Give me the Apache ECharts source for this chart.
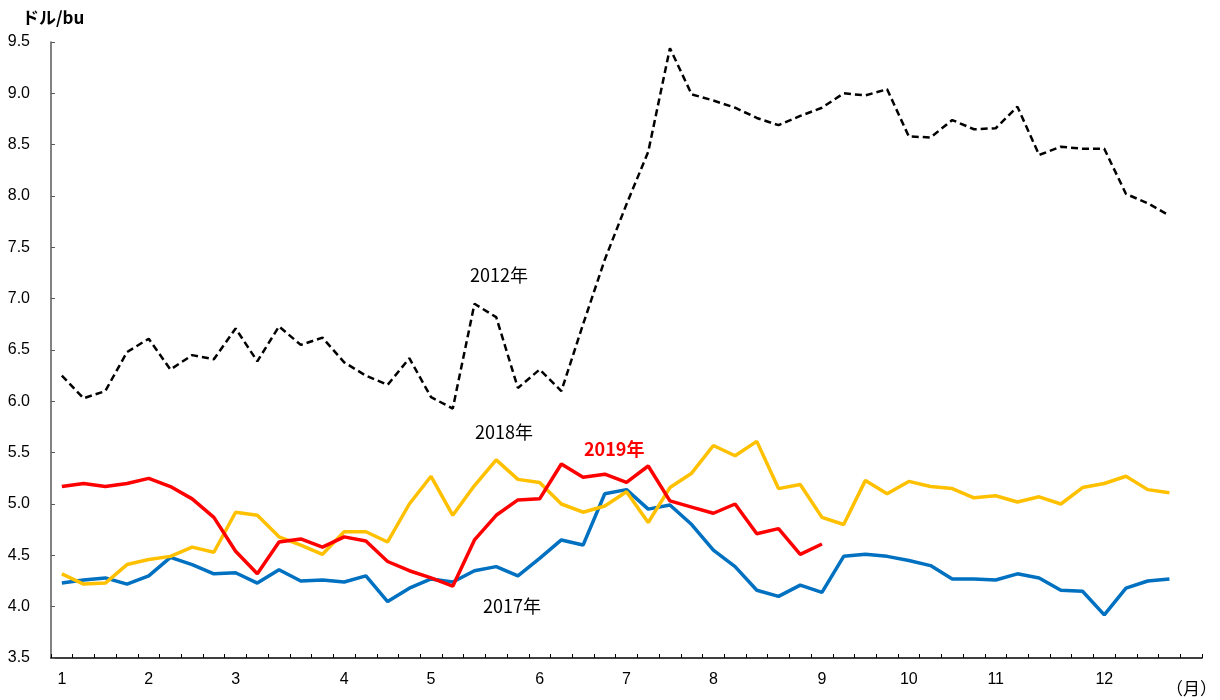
<!DOCTYPE html>
<html>
<head>
<meta charset="utf-8">
<script src="https://cdn.jsdelivr.net/npm/echarts@6/dist/echarts.min.js"></script>
<style>
  html, body { margin: 0; padding: 0; background: #fff; }
  #chart { width: 1220px; height: 700px; }
</style>
</head>
<body>
<div id="chart"></div>
<script>
// weekly categories, month number at the first week of each month
const categories = [
  '1', '', '', '', '2', '', '', '', '3', '', '', '', '', '4', '', '', '',
  '5', '', '', '', '', '6', '', '', '', '7', '', '', '', '8', '', '', '', '',
  '9', '', '', '', '10', '', '', '', '11', '', '', '', '', '12', '', '', '', ''
];

const y2012 = [
  6.25, 6.03, 6.10, 6.48, 6.61, 6.31, 6.45, 6.41, 6.71, 6.39, 6.73, 6.55, 6.62,
  6.38, 6.25, 6.16, 6.42, 6.04, 5.93, 6.95, 6.82, 6.13, 6.31, 6.10, 6.75, 7.38,
  7.92, 8.43, 9.44, 8.99, 8.93, 8.86, 8.76, 8.69, 8.78, 8.86, 9.00, 8.98, 9.04,
  8.58, 8.57, 8.74, 8.65, 8.66, 8.87, 8.40, 8.48, 8.46, 8.46, 8.02, 7.93, 7.81
];

const y2017 = [
  4.23, 4.26, 4.28, 4.22, 4.30, 4.48, 4.41, 4.32, 4.33, 4.23, 4.36, 4.25, 4.26,
  4.24, 4.30, 4.05, 4.18, 4.27, 4.24, 4.35, 4.39, 4.30, 4.47, 4.65, 4.60, 5.10,
  5.14, 4.95, 4.99, 4.80, 4.55, 4.39, 4.16, 4.10, 4.21, 4.14, 4.49, 4.51, 4.49,
  4.45, 4.40, 4.27, 4.27, 4.26, 4.32, 4.28, 4.16, 4.15, 3.92, 4.18, 4.25, 4.27
];

const y2018 = [
  4.32, 4.22, 4.23, 4.41, 4.46, 4.49, 4.58, 4.53, 4.92, 4.89, 4.68, 4.60, 4.51,
  4.73, 4.73, 4.63, 5.00, 5.27, 4.89, 5.18, 5.43, 5.24, 5.21, 5.00, 4.92, 4.98,
  5.12, 4.82, 5.16, 5.30, 5.57, 5.47, 5.61, 5.15, 5.19, 4.87, 4.80, 5.23, 5.10,
  5.22, 5.17, 5.15, 5.06, 5.08, 5.02, 5.07, 5.00, 5.16, 5.20, 5.27, 5.14, 5.11
];

const y2019 = [
  5.17, 5.20, 5.17, 5.20, 5.25, 5.17, 5.05, 4.87, 4.54, 4.32, 4.63, 4.66, 4.58,
  4.68, 4.64, 4.44, 4.35, 4.28, 4.20, 4.65, 4.89, 5.04, 5.05, 5.39, 5.26, 5.29,
  5.21, 5.37, 5.03, 4.97, 4.91, 5.00, 4.71, 4.76, 4.51, 4.61
];

const font = '"Liberation Sans", "Noto Sans CJK JP", sans-serif';
const cjk = '"Noto Sans CJK JP", sans-serif';

let chart = echarts.init(document.getElementById('chart'));

let line = (data, color, width, type) => ({
  type: 'line',
  data: data,
  symbol: 'none',
  silent: true,
  lineStyle: { color: color, width: width, type: type || 'solid' }
});

let label = (text, x, y, color, bold, size) => ({
  type: 'text',
  left: x,
  top: y,
  style: {
    text: text,
    fill: color,
    font: (bold ? 'bold ' : '') + (size || 17) + 'px ' + cjk
  }
});

let option = {
  animation: false,
  backgroundColor: '#fff',
  grid: { left: 51, right: 18, top: 42, bottom: 42 },
  xAxis: {
    type: 'category',
    data: categories,
    boundaryGap: true,
    axisLine: { lineStyle: { color: '#000', width: 1.5 } },
    axisTick: { show: true, inside: true, length: 4, interval: 0, lineStyle: { color: '#000' } },
    axisLabel: {
      interval: 0,
      color: '#000',
      fontSize: 16,
      fontFamily: font,
      margin: 14
    },
    splitLine: { show: false }
  },
  yAxis: {
    type: 'value',
    min: 3.5,
    max: 9.5,
    interval: 0.5,
    axisLine: { show: true, lineStyle: { color: '#595959', width: 1.5 } },
    axisTick: { show: true, inside: true, length: 4, lineStyle: { color: '#595959' } },
    axisLabel: {
      color: '#000',
      fontSize: 16,
      fontFamily: font,
      margin: 21,
      formatter: (v) => v.toFixed(1)
    },
    splitLine: { show: false }
  },
  series: [
    line(y2012, '#000', 2.5, [7, 4]),
    line(y2017, '#0070C0', 3.5),
    line(y2018, '#FFC000', 3.5),
    line(y2019, '#FF0000', 3.5)
  ],
  graphic: [
    label('ドル/bu', 22, 9, '#000', true, 17),
    label('（月）', 1166, 680, '#000', false, 17),
    label('2012年', 470, 266, '#000', false, 18),
    label('2018年', 475, 423, '#000', false, 18),
    label('2019年', 584, 440, '#FF0000', true, 18),
    label('2017年', 483, 597, '#000', false, 18)
  ]
};

chart.setOption(option);
window.addEventListener('resize', () => {
  chart.resize();
});
</script>
</body>
</html>
